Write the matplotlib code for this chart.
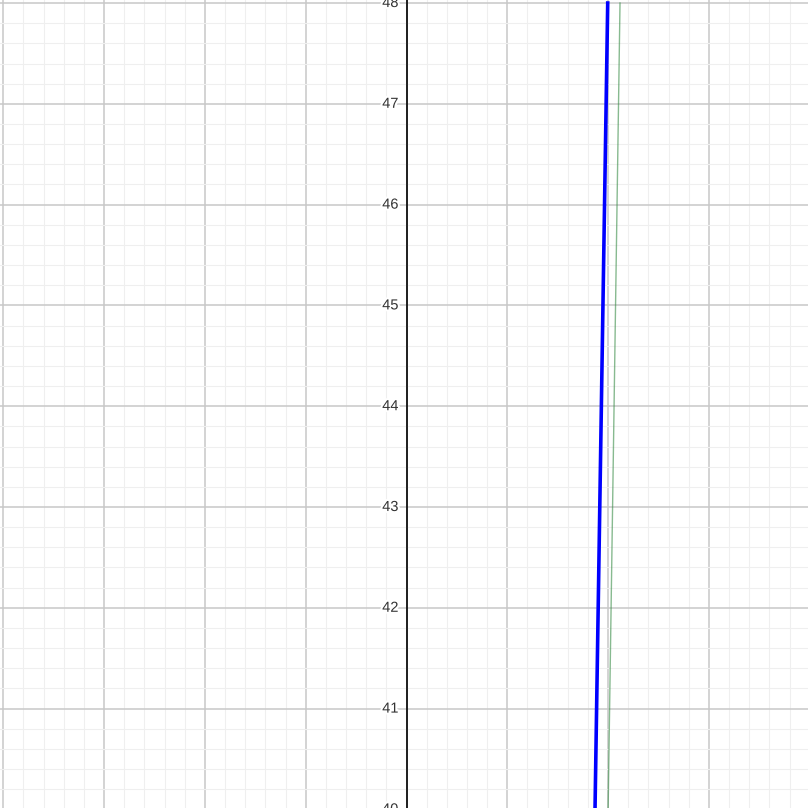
import matplotlib.pyplot as plt
from matplotlib.ticker import MultipleLocator
import matplotlib.patheffects as pe

plt.rcParams['font.family'] = ['Liberation Sans', 'DejaVu Sans']

# two nearly vertical lines (x, y)
blue_x = [1.870, 1.996]
blue_y = [40.0, 48.0]
green_x = [2.000, 2.118]
green_y = [40.0, 48.0]

y_ticks = [40, 41, 42, 43, 44, 45, 46, 47, 48]

fig = plt.figure(figsize=(8.08, 8.08), dpi=100)
ax = fig.add_axes([0, 0, 1, 1])

x_min, x_max = -4.033, 3.983
y_min, y_max = 40.014, 48.03
ax.set_xlim(x_min, x_max)
ax.set_ylim(y_min, y_max)

# grid
ax.xaxis.set_major_locator(MultipleLocator(1))
ax.yaxis.set_major_locator(MultipleLocator(1))
ax.xaxis.set_minor_locator(MultipleLocator(0.2))
ax.yaxis.set_minor_locator(MultipleLocator(0.2))
ax.grid(which='minor', color='#efefef', lw=0.8)
ax.grid(which='major', color='#c8c8c8', lw=1.1)
ax.set_axisbelow(True)
ax.tick_params(which='both', length=0, labelbottom=False, labelleft=False)
for s in ax.spines.values():
    s.set_visible(False)

# y axis
ax.axvline(0, color='black', lw=1.2, zorder=2)

for t in y_ticks:
    ax.text(-0.08, t, str(t), ha='right', va='center', fontsize=10.5, color='#333333',
            path_effects=[pe.withStroke(linewidth=3, foreground='white')], zorder=3)

# lines
ax.plot(green_x, green_y, color='#388c46', lw=1.0, alpha=0.6, zorder=4)
ax.plot(blue_x, blue_y, color='#0000ff', lw=2.6, zorder=5)

# point label, mostly below the bottom edge
ax.text(2.02, 40.008, '(2, 40)', ha='left', va='top', fontsize=10.5, color='#1a6b28', zorder=6)

fig.savefig('out.png', dpi=100)
